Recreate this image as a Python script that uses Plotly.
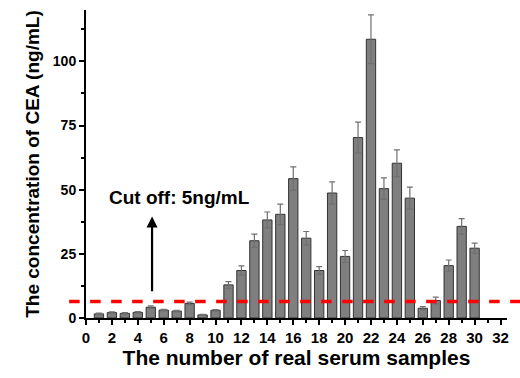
import plotly.graph_objects as go

samples = list(range(1, 31))
cea = [1.6, 2.1, 1.8, 2.2, 4.2, 3.1, 2.7, 5.7, 1.2, 3.0,
       12.9, 18.5, 30.1, 38.2, 40.4, 54.3, 31.1, 18.5, 48.7, 24.0,
       70.3, 108.6, 50.4, 60.3, 46.7, 3.8, 6.8, 20.4, 35.7, 27.2]
err = [0.3, 0.3, 0.3, 0.3, 0.5, 0.3, 0.3, 0.5, 0.2, 0.3,
       1.3, 1.8, 2.6, 3.1, 4.0, 4.6, 2.6, 1.5, 4.3, 2.3,
       6.0, 9.5, 4.2, 5.2, 4.3, 0.6, 1.3, 2.2, 3.0, 2.0]
cutoff = 6.4
x_ticks = list(range(0, 33, 2))
y_ticks = [0, 25, 50, 75, 100]

font = "Liberation Sans, Arial, sans-serif"

fig = go.Figure()
fig.add_trace(go.Bar(
    x=samples, y=cea, width=0.72,
    marker=dict(color="#7f7f7f", line=dict(color="#333333", width=1)),
    error_y=dict(type="data", array=err, visible=True, color="#707070",
                 thickness=1.2, width=3),
))

fig.add_shape(type="line", xref="paper", yref="y", x0=-0.04, x1=1.04,
              y0=cutoff, y1=cutoff,
              line=dict(color="#ff0000", width=3.5, dash="dash"))

fig.add_annotation(x=5.1, y=39.5, ax=5.1, ay=9.8, xref="x", yref="y",
                   axref="x", ayref="y", text="", showarrow=True,
                   arrowhead=2, arrowsize=1, arrowwidth=2.2, arrowcolor="black")
fig.add_annotation(x=7.2, y=46.9, xref="x", yref="y",
                   text="<b>Cut off: 5ng/mL</b>", showarrow=False,
                   font=dict(family=font, size=19, color="black"))

fig.update_layout(
    width=520, height=378,
    margin=dict(l=86, r=13, t=10, b=60),
    plot_bgcolor="white", paper_bgcolor="white",
    showlegend=False,
    font=dict(family=font, color="black"),
    xaxis=dict(range=[0, 32.5], tickvals=x_ticks,
               ticktext=[f"<b>{v}</b>" for v in x_ticks],
               ticks="outside", ticklen=5, tickwidth=1.5, tickcolor="black",
               minor=dict(dtick=1, tick0=0, ticks="outside", ticklen=3, tickcolor="black"),
               showline=True, linecolor="black", linewidth=2,
               showgrid=False, zeroline=False,
               tickfont=dict(size=15, family=font),
               title=dict(text="<b>The number of real serum samples</b>",
                          font=dict(size=21, family=font), standoff=3)),
    yaxis=dict(range=[0, 120], tickvals=y_ticks,
               ticktext=[f"<b>{v}</b>" for v in y_ticks],
               ticks="outside", ticklen=5, tickwidth=1.5, tickcolor="black",
               minor=dict(dtick=12.5, tick0=0, ticks="outside", ticklen=3, tickcolor="black"),
               showline=True, linecolor="black", linewidth=2,
               showgrid=False, zeroline=False,
               tickfont=dict(size=14, family=font),
               title=dict(text="<b>The concentration of CEA (ng/mL)</b>",
                          font=dict(size=19, family=font), standoff=8)),
)

fig.write_html("out.html")
